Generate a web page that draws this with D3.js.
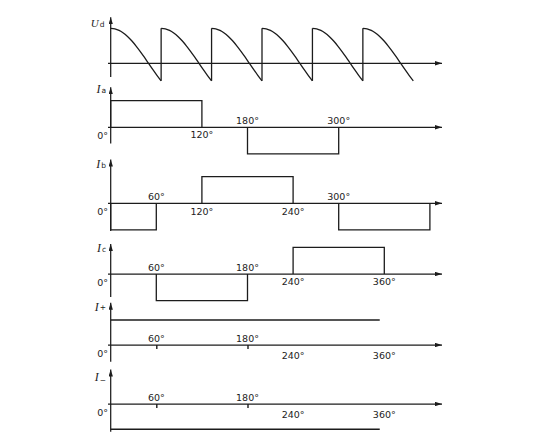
<!DOCTYPE html>
<html><head><meta charset="utf-8">
<script src="https://cdn.jsdelivr.net/npm/d3@7"></script>
<style>html,body{margin:0;padding:0;background:#fff;overflow:hidden}</style>
</head><body>
<svg id="c" width="551" height="448"></svg>
<script>
// ---------- data ----------
const udSegmentStarts = [0, 60, 120, 180, 240, 300];
const udOffsets = [0, 5, 10, 15, 20, 25, 30, 35, 40, 45, 50, 55, 60];
const udSegmentValues = [
  [1.00, 0.985, 0.94, 0.866, 0.766, 0.643, 0.50, 0.342, 0.174, 0.00, -0.174, -0.342, -0.50],
  [1.00, 0.985, 0.94, 0.866, 0.766, 0.643, 0.50, 0.342, 0.174, 0.00, -0.174, -0.342, -0.50],
  [1.00, 0.985, 0.94, 0.866, 0.766, 0.643, 0.50, 0.342, 0.174, 0.00, -0.174, -0.342, -0.50],
  [1.00, 0.985, 0.94, 0.866, 0.766, 0.643, 0.50, 0.342, 0.174, 0.00, -0.174, -0.342, -0.50],
  [1.00, 0.985, 0.94, 0.866, 0.766, 0.643, 0.50, 0.342, 0.174, 0.00, -0.174, -0.342, -0.50],
  [1.00, 0.985, 0.94, 0.866, 0.766, 0.643, 0.50, 0.342, 0.174, 0.00, -0.174, -0.342, -0.50]
];

const iaPulses = [[0, 120, 1], [180, 300, -1]];
const ibPulses = [[0, 60, -1], [120, 240, 1], [300, 420, -1]];
const icPulses = [[60, 180, -1], [240, 360, 1]];
const iPlusLevel = [[0, 0.94], [354, 0.94]];
const iMinusLevel = [[0, -0.95], [354, -0.95]];

const iaLabelsAbove = [180, 300];
const iaLabelsBelow = [120];
const ibLabelsAbove = [60, 300];
const ibLabelsBelow = [120, 240];
const icLabelsAbove = [60, 180];
const icLabelsBelow = [240, 360];
const ipLabelsAbove = [60, 180];
const ipLabelsBelow = [240, 360];
const ipTickMarks = [60, 180];
const imLabelsAbove = [60, 180];
const imLabelsBelow = [240, 360];
const imTickMarks = [60, 180];

const panelSymbols = ["a", "b", "c", "+", "\u2212"];

// ---------- drawing ----------
const svg = d3.select("#c");
const INK = "#1c1c1c";
const SANS = "DejaVu Sans, Verdana, sans-serif";
svg.append("rect").attr("width", 551).attr("height", 448).attr("fill", "#fff");

const defs = svg.append("defs");
defs.append("marker").attr("id", "arr")
  .attr("viewBox", "0 0 8 5").attr("refX", 8).attr("refY", 2.5)
  .attr("markerWidth", 7).attr("markerHeight", 4.4)
  .attr("markerUnits", "userSpaceOnUse").attr("orient", "auto")
  .append("path").attr("d", "M0,0L8,2.5L0,5Z").attr("fill", INK);

const X0 = 110.7, XEND = 442, XSTART = 108;
const xU = d3.scaleLinear().domain([0, 360]).range([X0, 413.3]);
const x = d3.scaleLinear().domain([0, 360]).range([X0, X0 + 0.76 * 360]);

function axes(g, base, top, bottom) {
  g.append("line").attr("x1", XSTART).attr("x2", XEND).attr("y1", base).attr("y2", base)
    .attr("stroke", INK).attr("stroke-width", 1.25).attr("marker-end", "url(#arr)");
  g.append("line").attr("x1", X0).attr("x2", X0).attr("y1", bottom).attr("y2", top)
    .attr("stroke", INK).attr("stroke-width", 1.25).attr("marker-end", "url(#arr)");
}
function symLabel(g, main, sub, lx, ly, subDy, size) {
  const t = g.append("text").attr("x", lx).attr("y", ly).attr("text-anchor", "end").attr("fill", INK);
  t.append("tspan").text(main).attr("font-family", "Liberation Serif, serif")
    .attr("font-style", "italic").attr("font-size", size);
  t.append("tspan").text(sub).attr("font-family", SANS)
    .attr("font-size", 7.5).attr("dx", 1).attr("dy", subDy);
}
function degLabels(g, vals, y) {
  g.selectAll(null).data(vals).enter().append("text")
    .attr("x", d => x(d)).attr("y", y).attr("text-anchor", "middle")
    .attr("font-family", SANS).attr("font-size", 9.5)
    .attr("fill", INK).text(d => d + "\u00b0");
}
function zeroLabel(g, base) {
  g.append("text").attr("x", 108).attr("y", base + 11.5).attr("text-anchor", "end")
    .attr("font-family", SANS).attr("font-size", 9.5)
    .attr("fill", INK).text("0\u00b0");
}

// Ud panel
{
  const base = 63.3;
  const g = svg.append("g");
  axes(g, base, 17.3, 77);
  symLabel(g, "U", "d", 104.5, 26.5, 0, 11);
  const yU = d3.scaleLinear().domain([-1, 1]).range([base + 35, base - 35]);
  const line = d3.line().x(d => xU(d[0])).y(d => yU(d[1])).curve(d3.curveMonotoneX);
  udSegmentStarts.forEach((s, i) => {
    const pts = udOffsets.map((o, j) => [s + o, udSegmentValues[i][j]]);
    g.append("path").attr("d", line(pts)).attr("fill", "none")
      .attr("stroke", INK).attr("stroke-width", 1.3);
    if (i > 0) {
      const prev = udSegmentValues[i - 1];
      g.append("line").attr("x1", xU(s)).attr("x2", xU(s))
        .attr("y1", yU(prev[prev.length - 1])).attr("y2", yU(udSegmentValues[i][0]))
        .attr("stroke", INK).attr("stroke-width", 1.3);
    }
  });
}

const panels = [
  {pulses: iaPulses, above: iaLabelsAbove, below: iaLabelsBelow, base: 127.3, top: 87.3, bottom: 143.5, ly: 93, subDy: 0, belowDy: 11},
  {pulses: ibPulses, above: ibLabelsAbove, below: ibLabelsBelow, base: 203.3, top: 159.5, bottom: 231, ly: 168, subDy: 0, belowDy: 11.5},
  {pulses: icPulses, above: icLabelsAbove, below: icLabelsBelow, base: 274, top: 244, bottom: 297, ly: 252, subDy: 0, belowDy: 11},
  {level: iPlusLevel, above: ipLabelsAbove, below: ipLabelsBelow, ticks: ipTickMarks, base: 345, top: 302.7, bottom: 361.7, ly: 310.5, subDy: -1, belowDy: 14},
  {level: iMinusLevel, above: imLabelsAbove, below: imLabelsBelow, ticks: imTickMarks, base: 404, top: 369.5, bottom: 431.7, ly: 381, subDy: 1.5, belowDy: 13.5}
];

panels.forEach((p, i) => {
  const g = svg.append("g");
  axes(g, p.base, p.top, p.bottom);
  symLabel(g, "I", panelSymbols[i], 106, p.ly, p.subDy, 12);
  const y = d3.scaleLinear().domain([-1, 1]).range([p.base + 26.6, p.base - 26.6]);
  const line = d3.line().x(d => x(d[0])).y(d => y(d[1]));
  if (p.pulses) {
    p.pulses.forEach(([a, b, v]) => {
      g.append("path").attr("d", line([[a, 0], [a, v], [b, v], [b, 0]]))
        .attr("fill", "none").attr("stroke", INK).attr("stroke-width", 1.3);
    });
  }
  if (p.level) {
    g.append("path").attr("d", line(p.level)).attr("fill", "none")
      .attr("stroke", INK).attr("stroke-width", 1.3);
  }
  if (p.ticks) {
    const ax = d3.axisBottom(x).tickValues(p.ticks).tickSize(4).tickFormat("");
    const ag = g.append("g").attr("transform", `translate(0,${p.base})`).call(ax);
    ag.select(".domain").remove();
    ag.selectAll("line").attr("stroke", INK).attr("stroke-width", 1.4);
  }
  degLabels(g, p.above, p.base - 3.3);
  degLabels(g, p.below, p.base + p.belowDy);
  zeroLabel(g, p.base);
});
</script>
</body></html>
